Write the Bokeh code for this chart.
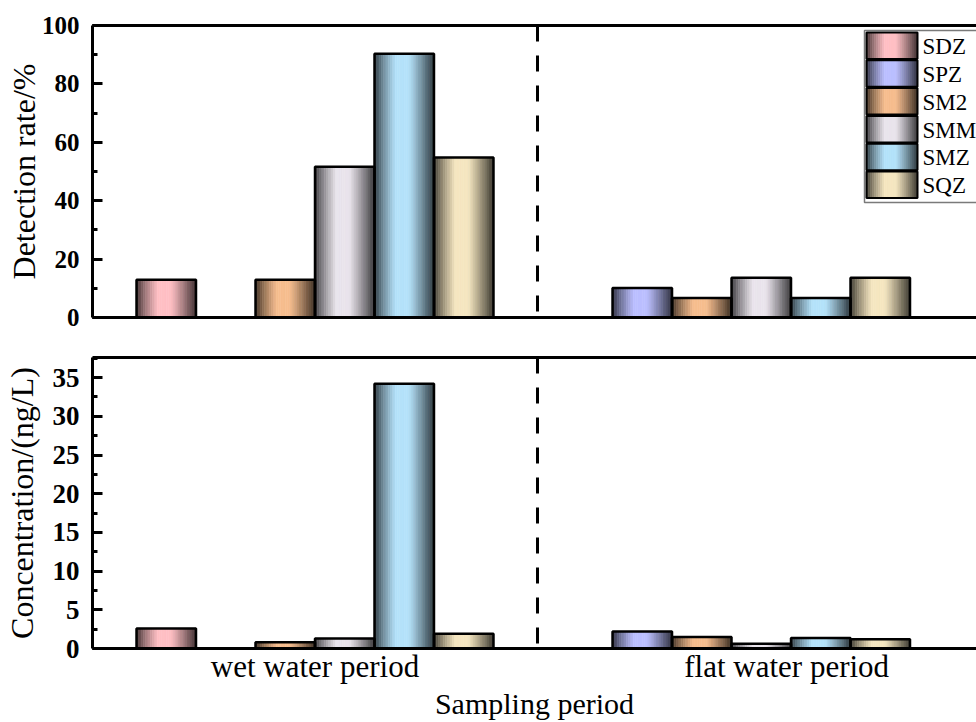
import numpy as np
from bokeh.plotting import figure
from bokeh.models import (Range1d, LinearAxis, FixedTicker, SingleIntervalTicker,
                          Span, ColumnDataSource)
from bokeh.layouts import column
from bokeh.embed import file_html
from bokeh.resources import INLINE
from bokeh.core.properties import value

# ---------------- data ----------------
periods = ["wet water period", "flat water period"]
series = ["SDZ", "SPZ", "SM2", "SMM", "SMZ", "SQZ"]
detection_wet = [12.9, 0, 12.9, 51.6, 90.3, 54.8]
detection_flat = [0, 10.1, 6.7, 13.6, 6.7, 13.6]
conc_wet = [2.6, 0, 0.8, 1.3, 34.2, 1.9]
conc_flat = [0, 2.2, 1.5, 0.6, 1.35, 1.2]
colors = ["#FFBFC4", "#BBBFFF", "#F6BD8E", "#E9E4EC", "#B4E2FA", "#F5E6C0"]
y1_ticks_interval = 20
y2_ticks_interval = 5

# ---------------- layout constants ----------------
FONT = "Liberation Serif"
FRAME_L, FRAME_R = 92, 976
PX_PER_X = 445.0
X_START = 0.5
X_END = X_START + (FRAME_R - FRAME_L) / PX_PER_X
group_centers = [1.0, 1.936]
label_positions = [1.0, 2.06]
bar_w = 0.1337
divider = 1.5
N_STRIPS = 26


def shade(t):
    if t < 0.36:
        return 0.2 + 0.8 * (t / 0.36) ** 0.75
    if t < 0.58:
        return 1.0
    return 1.0 - 0.75 * ((t - 0.58) / 0.42) ** 1.1


def mix(hexc, f):
    r, g, b = int(hexc[1:3], 16), int(hexc[3:5], 16), int(hexc[5:7], 16)
    return "#%02x%02x%02x" % (int(r * f), int(g * f), int(b * f))


def strips(x0, x1, y0, y1, col, src):
    w = (x1 - x0) / N_STRIPS
    for k in range(N_STRIPS):
        t = (k + 0.5) / N_STRIPS
        src["left"].append(x0 + k * w)
        src["right"].append(x0 + (k + 1) * w)
        src["bottom"].append(y0)
        src["top"].append(y1)
        src["color"].append(mix(col, shade(t)))


def draw_bars(p, groups):
    s = dict(left=[], right=[], bottom=[], top=[], color=[])
    o = dict(left=[], right=[], bottom=[], top=[])
    for center, vals in zip(group_centers, groups):
        for i, v in enumerate(vals):
            if v <= 0:
                continue
            x0 = center + (i - len(series) / 2) * bar_w
            x1 = x0 + bar_w
            strips(x0, x1, 0, v, colors[i], s)
            o["left"].append(x0); o["right"].append(x1)
            o["bottom"].append(0); o["top"].append(v)
    p.quad(left="left", right="right", bottom="bottom", top="top",
           fill_color="color", line_color="color", line_width=0.6,
           source=ColumnDataSource(s))
    p.quad(left="left", right="right", bottom="bottom", top="top",
           fill_color=None, line_color="black", line_width=2.5,
           source=ColumnDataSource(o))


def line_axis(p, loc):
    ax = LinearAxis(ticker=FixedTicker(ticks=[]), axis_line_width=3,
                    axis_line_color="black", major_tick_line_color=None,
                    minor_tick_line_color=None)
    p.add_layout(ax, loc)
    return ax


def y_axis(p, interval, label, label_standoff, tick_size):
    ax = LinearAxis(ticker=SingleIntervalTicker(interval=interval, num_minor_ticks=2),
                    axis_label=label)
    ax.axis_line_width = 3
    ax.major_tick_line_width = 3
    ax.minor_tick_line_width = 3
    ax.major_tick_in = 10
    ax.major_tick_out = 0
    ax.minor_tick_in = 5
    ax.minor_tick_out = 0
    ax.major_label_text_font = FONT
    ax.major_label_text_font_style = "bold"
    ax.major_label_text_font_size = tick_size
    ax.major_label_text_color = "black"
    ax.major_label_standoff = 13
    ax.axis_label_text_font = FONT
    ax.axis_label_text_font_style = "normal"
    ax.axis_label_text_font_size = "32px"
    ax.axis_label_text_color = "black"
    ax.axis_label_standoff = label_standoff
    p.add_layout(ax, "left")
    return ax


def base_fig(height, y_end, top, bottom):
    p = figure(width=976, height=height, x_range=Range1d(X_START, X_END),
               y_range=Range1d(0, y_end), output_backend="svg",
               toolbar_location=None, x_axis_location=None, y_axis_location=None,
               min_border_left=FRAME_L, min_border_right=0,
               min_border_top=top, min_border_bottom=bottom)
    p.outline_line_color = None
    p.grid.visible = False
    p.background_fill_color = "white"
    p.border_fill_color = "white"
    p.add_layout(Span(location=divider, dimension="height", line_color="black",
                      line_width=3, line_dash="16 14"))
    return p


# ---------------- top panel ----------------
p1 = base_fig(337, 100, 25, 20)
y_axis(p1, y1_ticks_interval, "Detection rate/%", -3, "25px")
line_axis(p1, "above")
line_axis(p1, "below")
draw_bars(p1, [detection_wet, detection_flat])

# manual legend (gradient swatches) in top-panel pixel geometry
TOP_FRAME_T, TOP_FRAME_B = 25, 317


def px_x(px):
    return X_START + (px - FRAME_L) / PX_PER_X


def px_y(py):
    return (TOP_FRAME_B - py) / (TOP_FRAME_B - TOP_FRAME_T) * 100


p1.quad(left=[px_x(864)], right=[px_x(1000)], top=[px_y(30)], bottom=[px_y(202)],
        fill_color="white", line_color="#7a7a7a", line_width=1.5)
ls = dict(left=[], right=[], bottom=[], top=[], color=[])
lo = dict(left=[], right=[], bottom=[], top=[])
lt = dict(x=[], y=[], text=[])
for i, name in enumerate(series):
    top_px = 32 + i * 27.8
    bot_px = top_px + 26.5
    strips(px_x(866), px_x(917), px_y(bot_px), px_y(top_px), colors[i], ls)
    lo["left"].append(px_x(866)); lo["right"].append(px_x(917))
    lo["bottom"].append(px_y(bot_px)); lo["top"].append(px_y(top_px))
    lt["x"].append(px_x(922)); lt["y"].append(px_y((top_px + bot_px) / 2 + 1))
    lt["text"].append(name)
p1.quad(left="left", right="right", bottom="bottom", top="top",
        fill_color="color", line_color="color", line_width=0.6,
        source=ColumnDataSource(ls))
p1.quad(left="left", right="right", bottom="bottom", top="top",
        fill_color=None, line_color="black", line_width=2,
        source=ColumnDataSource(lo))
p1.text(x="x", y="y", text="text", text_font=value(FONT), text_font_size="23px",
        text_baseline="middle", text_align="left", text_color="black",
        source=ColumnDataSource(lt))

# ---------------- bottom panel ----------------
p2 = base_fig(385, 37.6, 20, 73)
y_axis(p2, y2_ticks_interval, "Concentration/(ng/L)", 10, "27px")
line_axis(p2, "above")
xb = LinearAxis(ticker=FixedTicker(ticks=label_positions),
                axis_label="Sampling period")
xb.major_label_overrides = {label_positions[0]: periods[0], label_positions[1]: periods[1]}
xb.axis_line_width = 3
xb.major_tick_in = 0
xb.major_tick_out = 0
xb.minor_tick_line_color = None
xb.major_tick_line_color = None
xb.major_label_text_font = FONT
xb.major_label_text_font_size = "31px"
xb.major_label_text_color = "black"
xb.major_label_standoff = 0
xb.axis_label_text_font = FONT
xb.axis_label_text_font_style = "normal"
xb.axis_label_text_font_size = "30px"
xb.axis_label_text_color = "black"
xb.axis_label_standoff = 0
p2.add_layout(xb, "below")
draw_bars(p2, [conc_wet, conc_flat])

layout = column(p1, p2, spacing=0)
open("out.html", "w").write(file_html(layout, INLINE))
